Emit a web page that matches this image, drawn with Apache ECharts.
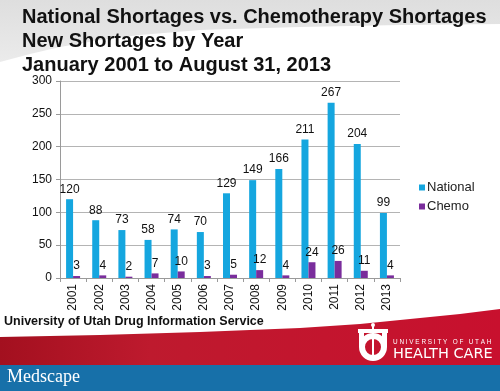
<!DOCTYPE html>
<html><head><meta charset="utf-8">
<script src="https://cdn.jsdelivr.net/npm/echarts@6/dist/echarts.min.js"></script>
<style>html,body{margin:0;padding:0;background:#fff}#c{width:500px;height:391px}</style>
</head><body><div id="c"></div>
<script>
var years = ['2001','2002','2003','2004','2005','2006','2007','2008','2009','2010','2011','2012','2013'];
var national = [120,88,73,58,74,70,129,149,166,211,267,204,99];
var chemo = [3,4,2,7,10,3,5,12,4,24,26,11,4];
var yTicks = [0,50,100,150,200,250,300];
var titleLines = ['National Shortages vs. Chemotherapy Shortages','New Shortages by Year','January 2001 to August 31, 2013'];
var sourceText = 'University of Utah Drug Information Service';

var chart = echarts.init(document.getElementById('c'), null, {renderer:'canvas'});
var font = 'Liberation Sans, Arial, sans-serif';
chart.setOption({
  backgroundColor: '#fff',
  animation: false,
  textStyle: {fontFamily: font},
  graphic: [
    {type:'polygon', z:-10, shape:{points:[[0,0],[500,0],[500,24],[400,25],[300,27],[200,30],[140,35],[100,40],[60,47],[30,54],[0,62]]},
     style:{fill:{type:'linear',x:0,y:0,x2:0,y2:1,colorStops:[{offset:0,color:'#dedede'},{offset:1,color:'#ebebeb'}]}}},
    {type:'polygon', z:-10, shape:{points:[[0,337],[100,335],[200,332],[300,328],[360,324],[420,318],[460,314],[500,309],[500,366],[0,366]]},
     style:{fill:{type:'linear',x:0,y:0,x2:1,y2:0,colorStops:[{offset:0,color:'#a3101f'},{offset:0.3,color:'#be1a2e'},{offset:1,color:'#c8102e'}]}}},
    {type:'rect', z:-10, shape:{x:0,y:365,width:500,height:26}, style:{fill:'#1770a9'}},
    {type:'text', left:4, top:315, style:{text:sourceText, font:'bold 12.5px '+font, fill:'#111'}},
    {type:'text', left:7, top:368, style:{text:'Medscape', font:'18px "Liberation Serif", serif', fill:'#fff'}},
    {type:'text', left:393, top:339, style:{text:'U N I V E R S I T Y   O F   U T A H', font:'6.4px '+font, fill:'#fff'}},
    {type:'text', left:393, top:347, style:{text:'HEALTH CARE', font:'14.5px "DejaVu Sans", sans-serif', fill:'#fff'}},
    {type:'rect', shape:{x:358,y:329,width:30,height:4}, style:{fill:'#fff'}},
    {type:'ring', shape:{cx:373,cy:347,r:14,r0:8}, style:{fill:'#fff'}},
    {type:'rect', shape:{x:359,y:333,width:5,height:14}, style:{fill:'#fff'}},
    {type:'rect', shape:{x:382,y:333,width:5,height:14}, style:{fill:'#fff'}},
    {type:'rect', shape:{x:372,y:324,width:2,height:34}, style:{fill:'#fff'}},
    {type:'circle', shape:{cx:373,cy:325,r:2}, style:{fill:'#fff'}}
  ],
  title: {
    text: titleLines.join('\n'), left: 22, top: 5, padding: 0,
    textStyle: {fontFamily: font, fontSize: 20, fontWeight: 'bold', lineHeight: 24, color: '#111'}
  },
  legend: {
    orient: 'vertical', left: 414, top: 176, itemWidth: 6, itemHeight: 6, itemGap: 6,
    icon: 'rect',
    textStyle: {fontFamily: font, fontSize: 13, color: '#222', padding:[0,0,0,-3]},
    data: ['National','Chemo']
  },
  grid: {left: 60, right: 100, top: 81, bottom: 113},
  xAxis: {
    type: 'category', data: years,
    axisLine: {lineStyle: {color: '#9a9a9a'}},
    axisTick: {show: true, length: 4, lineStyle:{color:'#9a9a9a'}},
    axisLabel: {rotate: 90, color: '#111', fontSize: 12, fontFamily: font, margin: 6}
  },
  yAxis: {
    type: 'value', min: 0, max: 300, interval: 50,
    axisLine: {show: true, lineStyle: {color: '#9a9a9a'}},
    axisTick: {show: true, length: 4, lineStyle:{color:'#9a9a9a'}},
    splitLine: {lineStyle: {color: '#b4b4b4'}},
    axisLabel: {color: '#111', fontSize: 12, fontFamily: font, margin: 8}
  },
  series: [
    {name:'National', type:'bar', data: national, barWidth: 7, barGap: '0%',
     itemStyle:{color:'#15a6df'},
     label:{show:true, position:'top', distance:4, color:'#111', fontSize:12, fontFamily:font}},
    {name:'Chemo', type:'bar', data: chemo, barWidth: 7,
     itemStyle:{color:'#7a2d9c'},
     label:{show:true, position:'top', distance:4, color:'#111', fontSize:12, fontFamily:font}}
  ]
});
</script></body></html>
